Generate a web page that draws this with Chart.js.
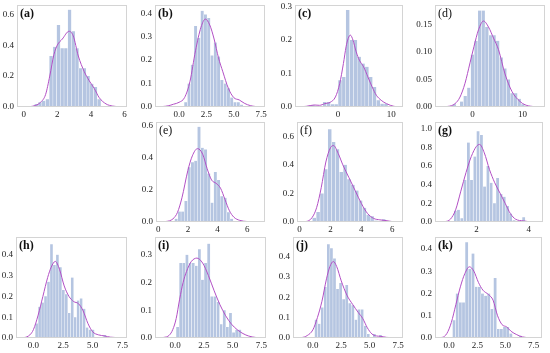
<!DOCTYPE html>
<html>
<head>
<meta charset="utf-8">
<script src="https://cdn.jsdelivr.net/npm/chart.js@4.4.0/dist/chart.umd.min.js"></script>
<style>
  html, body { margin: 0; padding: 0; background: #fff; }
  #page { position: relative; width: 550px; height: 353px; overflow: hidden; }
  .panel { position: absolute; }
</style>
</head>
<body>
<div id="page"></div>
<script>
// histogram bin centres / densities and kde curve samples, one set per panel
const aBinX = [0.75, 0.97, 1.19, 1.41, 1.63, 1.85, 2.07, 2.29, 2.51, 2.73, 2.95, 3.17, 3.39, 3.61, 3.83, 4.05, 4.27, 4.49];
const aBinY = [0.02, 0.03, 0.04, 0.05, 0.33, 0.39, 0.53, 0.38, 0.38, 0.63, 0.49, 0.38, 0.25, 0.25, 0.20, 0.15, 0.13, 0.05];
const aKdeX = [-0.4, 0.3, 0.7, 1.0, 1.3, 1.55, 1.8, 2.0, 2.3, 2.7, 2.95, 3.25, 3.6, 3.9, 4.2, 4.5, 4.9, 5.3, 5.8, 6.15];
const aKdeY = [0, 0.002, 0.01, 0.03, 0.08, 0.2, 0.34, 0.40, 0.44, 0.49, 0.46, 0.33, 0.23, 0.17, 0.12, 0.06, 0.02, 0.006, 0.001, 0];

const bBinX = [0.61, 0.91, 1.21, 1.51, 1.81, 2.11, 2.41, 2.71, 3.01, 3.31, 3.61, 3.91, 4.21, 4.51, 4.81, 5.11, 5.41, 5.71];
const bBinY = [0.02, 0.10, 0.18, 0.345, 0.295, 0.41, 0.395, 0.38, 0.22, 0.275, 0.215, 0.115, 0.10, 0.08, 0.04, 0.02, 0.02, 0.01];
const bKdeX = [-2.2, -1.5, -1.0, -0.5, 0, 0.5, 1.0, 1.5, 2.0, 2.4, 2.8, 3.2, 3.6, 4.0, 4.5, 5.0, 5.5, 6.0, 6.5, 7.0, 7.85];
const bKdeY = [0, 0.002, 0.005, 0.012, 0.02, 0.04, 0.11, 0.24, 0.34, 0.375, 0.35, 0.29, 0.21, 0.15, 0.08, 0.04, 0.03, 0.015, 0.006, 0.002, 0];

const cBinX = [-4.68, -3.96, -3.24, -2.52, -1.80, -1.08, -0.36, 0.36, 1.08, 1.80, 2.52, 3.24, 3.96, 4.68, 5.40, 6.12, 6.84, 7.56, 8.28, 9.00];
const cBinY = [0.005, 0, 0, 0.015, 0.015, 0.008, 0.008, 0.08, 0.09, 0.29, 0.20, 0.20, 0.15, 0.13, 0.12, 0.09, 0.06, 0.02, 0.01, 0.01];
const cKdeX = [-8.1, -6, -4.5, -3.5, -2.5, -1.5, -0.5, 0.3, 1.0, 1.5, 1.9, 2.3, 2.8, 3.4, 4.0, 4.8, 5.6, 6.4, 7.2, 8.1, 9.1, 10.5, 12.2];
const cKdeY = [0, 0.002, 0.006, 0.005, 0.01, 0.014, 0.03, 0.07, 0.13, 0.18, 0.205, 0.215, 0.20, 0.165, 0.14, 0.12, 0.09, 0.06, 0.035, 0.02, 0.01, 0.002, 0];

const dBinX = [-3.61, -2.89, -2.17, -1.45, -0.73, -0.01, 0.71, 1.43, 2.15, 2.87, 3.59, 4.31, 5.03, 5.75, 6.47, 7.19, 7.91, 8.63, 9.35, 10.07];
const dBinY = [0.005, 0, 0.01, 0.02, 0.035, 0.095, 0.12, 0.175, 0.175, 0.145, 0.13, 0.13, 0.12, 0.09, 0.07, 0.05, 0.025, 0.025, 0.015, 0.005];
const dKdeX = [-7.5, -5, -3.5, -2.5, -1.5, -0.5, 0.3, 1.2, 2.2, 3.2, 4.2, 5.2, 6.5, 7.9, 9.5, 10.5, 12, 14.5];
const dKdeY = [0, 0.001, 0.006, 0.018, 0.043, 0.08, 0.11, 0.14, 0.156, 0.145, 0.125, 0.104, 0.06, 0.028, 0.01, 0.004, 0.001, 0];

const eBinX = [1.21, 1.43, 1.65, 1.87, 2.09, 2.31, 2.53, 2.75, 2.97, 3.19, 3.41, 3.63, 3.85, 4.07, 4.29, 4.51, 4.73, 4.95];
const eBinY = [0.02, 0.065, 0.065, 0.13, 0.34, 0.37, 0.38, 0.59, 0.46, 0.45, 0.30, 0.12, 0.31, 0.26, 0.16, 0.15, 0.06, 0.02];
const eKdeX = [-0.15, 0.5, 1.0, 1.3, 1.6, 2.0, 2.3, 2.65, 3.0, 3.3, 3.6, 3.9, 4.2, 4.5, 4.8, 5.1, 5.5, 6.0, 6.5, 7.2];
const eKdeY = [0, 0.003, 0.02, 0.06, 0.15, 0.32, 0.41, 0.455, 0.42, 0.33, 0.26, 0.24, 0.21, 0.14, 0.07, 0.03, 0.01, 0.003, 0.001, 0];

const fBinX = [0.95, 1.20, 1.45, 1.70, 1.95, 2.20, 2.45, 2.70, 2.95, 3.20, 3.45, 3.70, 3.95, 4.20, 4.45, 4.70, 4.95, 5.20, 5.45];
const fBinY = [0.03, 0.07, 0.20, 0.37, 0.65, 0.56, 0.51, 0.35, 0.40, 0.30, 0.26, 0.22, 0.15, 0.10, 0.05, 0.04, 0.01, 0, 0.02];
const fKdeX = [-0.17, 0.4, 0.8, 1.1, 1.4, 1.7, 2.0, 2.2, 2.5, 2.8, 3.2, 3.6, 4.0, 4.4, 4.8, 5.2, 5.6, 6.0, 6.7];
const fKdeY = [0, 0.003, 0.03, 0.1, 0.24, 0.42, 0.52, 0.535, 0.48, 0.40, 0.31, 0.22, 0.13, 0.06, 0.025, 0.015, 0.01, 0.003, 0];

const gBinX = [1.19, 1.31, 1.44, 1.56, 1.69, 1.81, 1.94, 2.06, 2.19, 2.31, 2.44, 2.56, 2.69, 2.81, 2.94, 3.06, 3.19, 3.31, 3.44, 3.56, 3.69, 3.81];
const gBinY = [0.12, 0.13, 0.04, 0.45, 0.85, 0.45, 0.70, 0.97, 0.93, 0.38, 0.60, 0.42, 0.20, 0.47, 0.30, 0.27, 0.17, 0.09, 0.02, 0, 0, 0.05];
const gKdeX = [0.41, 0.8, 1.0, 1.2, 1.4, 1.6, 1.8, 2.0, 2.12, 2.3, 2.5, 2.7, 2.9, 3.1, 3.3, 3.5, 3.8, 4.1, 4.55];
const gKdeY = [0, 0.005, 0.03, 0.13, 0.33, 0.53, 0.70, 0.81, 0.83, 0.74, 0.56, 0.42, 0.31, 0.20, 0.09, 0.03, 0.012, 0.002, 0];

const hBinX = [0.275, 0.525, 0.775, 1.025, 1.275, 1.525, 1.775, 2.025, 2.275, 2.525, 2.775, 3.025, 3.275, 3.525, 3.775, 4.025, 4.275, 4.525, 4.775, 5.025, 5.275, 5.525, 5.775, 6.025];
const hBinY = [0.07, 0.15, 0.17, 0.20, 0.27, 0.45, 0.35, 0.40, 0.34, 0.23, 0.21, 0.12, 0.29, 0.10, 0.18, 0.19, 0.14, 0.05, 0.04, 0.04, 0, 0, 0, 0.015];
const hKdeX = [-1.47, -0.8, -0.3, 0, 0.4, 0.8, 1.2, 1.5, 1.85, 2.2, 2.6, 3.0, 3.4, 3.8, 4.2, 4.6, 5.0, 5.5, 6.0, 6.5, 7.9];
const hKdeY = [0, 0.002, 0.015, 0.04, 0.11, 0.2, 0.29, 0.34, 0.368, 0.33, 0.25, 0.20, 0.175, 0.165, 0.13, 0.07, 0.03, 0.015, 0.01, 0.004, 0];

const iBinX = [0.225, 0.495, 0.765, 1.035, 1.305, 1.575, 1.845, 2.115, 2.385, 2.655, 2.925, 3.195, 3.465, 3.735, 4.005, 4.275, 4.545, 4.815, 5.085, 5.355, 5.625];
const iBinY = [0.04, 0.27, 0.27, 0.30, 0.27, 0.27, 0.26, 0.32, 0.21, 0.27, 0.34, 0.15, 0.15, 0.13, 0.05, 0.10, 0.04, 0.09, 0.02, 0.03, 0.03];
const iKdeX = [-1.74, -1.0, -0.5, -0.2, 0.1, 0.4, 0.7, 1.0, 1.4, 1.9, 2.4, 2.9, 3.4, 3.9, 4.4, 4.9, 5.4, 5.9, 6.4, 7.0, 7.9];
const iKdeY = [0, 0.002, 0.01, 0.03, 0.07, 0.14, 0.2, 0.24, 0.275, 0.288, 0.27, 0.225, 0.17, 0.12, 0.08, 0.05, 0.03, 0.016, 0.007, 0.002, 0];

const jBinX = [0.285, 0.555, 0.825, 1.095, 1.365, 1.635, 1.905, 2.175, 2.445, 2.715, 2.985, 3.255, 3.525, 3.795, 4.065, 4.335, 4.605, 4.875, 5.145, 5.415, 5.685, 5.955];
const jBinY = [0.09, 0.07, 0.15, 0.25, 0.46, 0.44, 0.39, 0.24, 0.27, 0.19, 0.26, 0.17, 0.16, 0.09, 0.14, 0.14, 0.06, 0.02, 0, 0.02, 0, 0.015];
const jKdeX = [-1.75, -1.0, -0.5, 0, 0.4, 0.8, 1.2, 1.5, 1.8, 2.1, 2.5, 3.0, 3.5, 4.0, 4.4, 4.8, 5.2, 5.6, 6.0, 6.5, 7.94];
const jKdeY = [0, 0.002, 0.012, 0.04, 0.1, 0.18, 0.29, 0.35, 0.375, 0.35, 0.28, 0.21, 0.165, 0.125, 0.095, 0.05, 0.02, 0.01, 0.008, 0.003, 0];

const kBinX = [0.44, 0.72, 1.00, 1.28, 1.56, 1.84, 2.12, 2.40, 2.68, 2.96, 3.24, 3.52, 3.80, 4.08, 4.36, 4.64, 4.92, 5.20, 5.48, 5.76, 6.04, 6.32];
const kBinY = [0.08, 0.20, 0.16, 0.16, 0.43, 0.31, 0.38, 0.23, 0.23, 0.20, 0.19, 0.20, 0.13, 0.27, 0.04, 0.04, 0.05, 0.05, 0.02, 0, 0, 0.01];
const kKdeX = [-1.25, -0.6, -0.2, 0.2, 0.6, 1.0, 1.4, 1.8, 2.2, 2.6, 3.0, 3.5, 3.9, 4.3, 4.7, 5.1, 5.5, 6.0, 6.5, 7.2, 8.24];
const kKdeY = [0, 0.003, 0.02, 0.07, 0.15, 0.23, 0.29, 0.32, 0.3, 0.25, 0.215, 0.195, 0.17, 0.1, 0.06, 0.05, 0.03, 0.015, 0.005, 0.001, 0];

// frame = [left, top, right, bottom] of the plot box in page pixels
const panels = [
  { label: '(a)', bold: true,  frame: [17, 5, 127, 107],   xr: [-0.4, 6.15, 2, 0],    yr: [0.66, 0.2, 1],   bins: [aBinX, aBinY], kde: [aKdeX, aKdeY] },
  { label: '(b)', bold: true,  frame: [155, 5, 265, 107],  xr: [-2.2, 7.85, 2.5, 1],  yr: [0.435, 0.1, 1],  bins: [bBinX, bBinY], kde: [bKdeX, bKdeY] },
  { label: '(c)', bold: true,  frame: [295, 5, 403, 107],  xr: [-8.1, 12.2, 10, 0],   yr: [0.305, 0.1, 1],  bins: [cBinX, cBinY], kde: [cKdeX, cKdeY] },
  { label: '(d)', bold: false, frame: [435, 5, 545, 107],  xr: [-7.5, 14.5, 10, 0],   yr: [0.185, 0.05, 2], bins: [dBinX, dBinY], kde: [dKdeX, dKdeY] },
  { label: '(e)', bold: false, frame: [156, 122, 265, 222], xr: [-0.15, 7.2, 2, 0],   yr: [0.62, 0.2, 1],   bins: [eBinX, eBinY], kde: [eKdeX, eKdeY] },
  { label: '(f)', bold: false, frame: [297, 122, 403, 222], xr: [-0.17, 6.7, 2, 0],   yr: [0.70, 0.2, 1],   bins: [fBinX, fBinY], kde: [fKdeX, fKdeY] },
  { label: '(g)', bold: true,  frame: [435, 122, 543, 222], xr: [0.41, 4.55, 2, 0],   yr: [1.07, 0.2, 1],   bins: [gBinX, gBinY], kde: [gKdeX, gKdeY] },
  { label: '(h)', bold: true,  frame: [16, 237, 127, 338],  xr: [-1.47, 7.9, 2.5, 1], yr: [0.485, 0.1, 1],  bins: [hBinX, hBinY], kde: [hKdeX, hKdeY] },
  { label: '(i)', bold: true,  frame: [155, 237, 266, 338], xr: [-1.74, 7.9, 2.5, 1], yr: [0.364, 0.1, 1],  bins: [iBinX, iBinY], kde: [iKdeX, iKdeY] },
  { label: '(j)', bold: true,  frame: [293, 237, 403, 338], xr: [-1.75, 7.94, 2.5, 1], yr: [0.495, 0.1, 1], bins: [jBinX, jBinY], kde: [jKdeX, jKdeY] },
  { label: '(k)', bold: true,  frame: [435, 237, 542, 338], xr: [-1.25, 8.24, 2.5, 1], yr: [0.454, 0.1, 1], bins: [kBinX, kBinY], kde: [kKdeX, kKdeY] }
];

const Y_AXIS_W = 30;
const X_AXIS_H = 13;
const PAD_TOP = 4;
const PAD_RIGHT = 8;
const tickFont = { family: '"Liberation Serif", "DejaVu Serif", serif', size: 9 };

// light grey box round the plot area plus the panel letter
const framePlugin = {
  id: 'frame',
  afterDatasetsDraw(chart, args, opts) {
    const { ctx, chartArea: a } = chart;
    ctx.save();
    ctx.strokeStyle = '#d4d4d4';
    ctx.lineWidth = 1;
    ctx.strokeRect(Math.round(a.left) + 0.5, Math.round(a.top) + 0.5,
      Math.round(a.right - a.left) - 1, Math.round(a.bottom - a.top) - 1);
    ctx.font = (opts.bold ? 'bold ' : '') + '12px "Liberation Serif", serif';
    ctx.fillStyle = '#111';
    ctx.textBaseline = 'top';
    ctx.fillText(opts.text, a.left + 3, a.top + 3);
    ctx.restore();
  }
};

function toPoints(xs, ys) {
  return xs.map((x, i) => ({ x: x, y: ys[i] }));
}

function drawPanel(p) {
  const [L, T, R, B] = p.frame;
  const w = (R - L) + Y_AXIS_W + PAD_RIGHT;
  const h = (B - T) + PAD_TOP + X_AXIS_H;

  const box = document.createElement('div');
  box.className = 'panel';
  box.style.left = (L - Y_AXIS_W) + 'px';
  box.style.top = (T - PAD_TOP) + 'px';
  const canvas = document.createElement('canvas');
  canvas.width = w;
  canvas.height = h;
  box.appendChild(canvas);
  document.getElementById('page').appendChild(box);

  new Chart(canvas.getContext('2d'), {
    type: 'bar',
    data: {
      datasets: [{
        type: 'bar',
        data: toPoints(p.bins[0], p.bins[1]),
        backgroundColor: '#b5c5e1',
        borderColor: 'rgba(255, 255, 255, 0.7)',
        borderWidth: { left: 0.5, right: 0.5, top: 0, bottom: 0 },
        barPercentage: 1,
        categoryPercentage: 1,
        order: 2
      }, {
        type: 'line',
        data: toPoints(p.kde[0], p.kde[1]),
        borderColor: '#b24fc5',
        borderWidth: 1,
        pointRadius: 0,
        fill: false,
        cubicInterpolationMode: 'monotone',
        order: 1
      }]
    },
    options: {
      responsive: false,
      animation: false,
      events: [],
      layout: { padding: { top: PAD_TOP, right: PAD_RIGHT, left: 0, bottom: 0 } },
      plugins: {
        legend: { display: false },
        tooltip: { enabled: false },
        frame: { text: p.label, bold: p.bold }
      },
      scales: {
        x: {
          type: 'linear',
          min: p.xr[0],
          max: p.xr[1],
          offset: false,
          grid: { display: false, drawTicks: false, offset: false },
          border: { display: false },
          ticks: {
            stepSize: p.xr[2],
            includeBounds: false,
            autoSkip: false,
            maxRotation: 0,
            padding: 2,
            font: tickFont,
            color: '#222',
            callback: v => Number(v).toFixed(p.xr[3])
          },
          afterFit: s => { s.height = X_AXIS_H; s.paddingLeft = 0; s.paddingRight = 0; }
        },
        y: {
          min: 0,
          max: p.yr[0],
          grid: { display: false, drawTicks: false },
          border: { display: false },
          ticks: {
            stepSize: p.yr[1],
            includeBounds: false,
            padding: 3,
            font: tickFont,
            color: '#222',
            callback: v => Number(v).toFixed(p.yr[2])
          },
          afterFit: s => { s.width = Y_AXIS_W; s.paddingTop = 0; s.paddingBottom = 0; }
        }
      }
    },
    plugins: [framePlugin]
  });
}

panels.forEach(drawPanel);
</script>
</body>
</html>
